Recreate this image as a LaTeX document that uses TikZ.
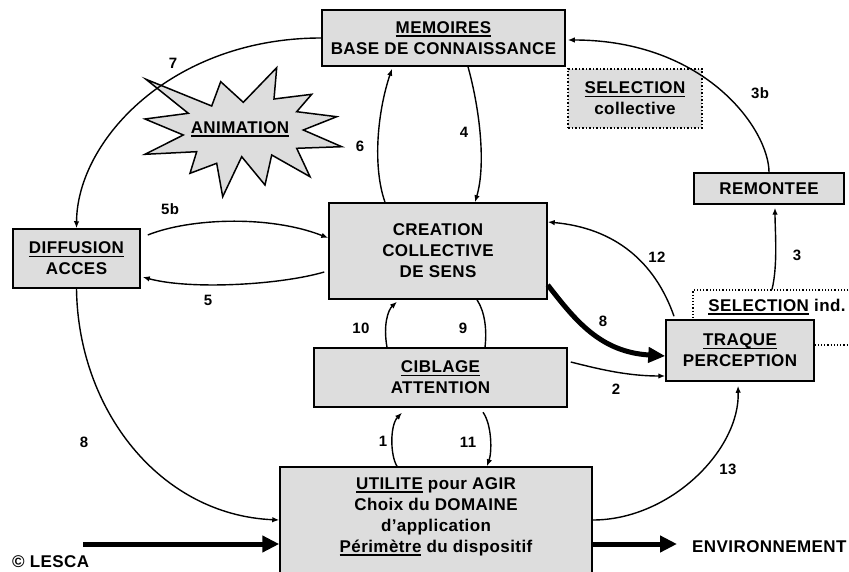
\documentclass[tikz,border=0pt]{standalone}
\usepackage{fontspec}
\setmainfont{Liberation Sans}[LetterSpace=2.5]
\usetikzlibrary{arrows.meta}
\definecolor{boxgray}{RGB}{221,221,221}
\newcommand{\myul}[1]{\setbox0=\hbox{#1}\rlap{\rule[-3.4pt]{\wd0}{1.5pt}}\box0\relax}
\newcommand{\boxfont}{\bfseries\fontsize{17}{21}\selectfont}
\newcommand{\lblfont}{\bfseries\fontsize{15}{17}\selectfont}
\tikzset{
  box/.style={draw=black, line width=1.5pt, fill=boxgray, inner sep=0pt, align=center, font=\boxfont},
  conn/.style={line width=1.4pt, -{Latex[length=7pt,width=5.5pt]}},
  plainline/.style={line width=1.4pt},
  bigconn/.style={line width=5pt, -{Triangle[length=17pt,width=15pt]}},
  thickarrow/.style={line width=5pt, -{Triangle[length=17pt,width=16pt]}},
  lbl/.style={font=\lblfont, inner sep=0pt},
  txt/.style={font=\boxfont, inner sep=0pt, align=center},
  dotbox/.style={draw=black, dotted, line width=1.2pt, inner sep=0pt},
}
\begin{document}
\begin{tikzpicture}[x=1pt,y=-1pt]
\useasboundingbox (0,0) rectangle (849,572);
\fill[white] (0,0) rectangle (849,572);

% star
\draw[line width=1.5pt, fill=boxgray, line join=miter]
 (146.0,79.3) -- (211.7,106.0) -- (220.7,81.7) -- (243.3,102.3) -- (276.7,67.7) -- (274.0,99.0)
 -- (311.7,94.3) -- (296.7,111.7) -- (336.7,116.7) -- (303.3,130.0) -- (341.7,146.7) -- (296.7,148.3)
 -- (310.0,176.7) -- (271.7,155.0) -- (265.0,185.0) -- (241.7,156.7) -- (222.7,196.7) -- (216.7,163.3)
 -- (190.0,173.3) -- (196.7,151.7) -- (145.0,154.3) -- (183.3,135.0) -- (145.0,119.0) -- (188.3,113.3) -- cycle;
\node[txt] (anim) at (240,129) {\myul{ANIMATION}};

% boxes
\node[box, minimum width=243pt, minimum height=56pt] (mem) at (443.5,38) {\myul{MEMOIRES}\\BASE DE CONNAISSANCE};
\node[box, dotted, line width=1.2pt, minimum width=134pt, minimum height=59pt] (selc) at (635,98.5) {\myul{SELECTION}\\collective};
\node[box, minimum width=150pt, minimum height=31pt] (rem) at (769,188.5) {REMONTEE};
\node[box, minimum width=127pt, minimum height=59pt] (diff) at (76.5,258.5) {\myul{DIFFUSION}\\ACCES};
\node[box, minimum width=218pt, minimum height=96pt] (crea) at (438,251) {CREATION\\COLLECTIVE\\DE SENS};
\node[box, minimum width=253pt, minimum height=59pt] (cib) at (440.5,377.5) {\myul{CIBLAGE}\\ATTENTION};
\node[box, minimum width=312pt, minimum height=113pt] (uti) at (436,523.5) {};
\node[txt] (utitxt) at (436,516.5) {\myul{UTILITE} pour AGIR\\Choix du DOMAINE\\d’application\\\myul{Périmètre} du dispositif};
\node[dotbox, minimum width=167pt, minimum height=55pt] (seli) at (776.5,317.5) {};
\node[txt] (selitxt) at (777,306.7) {\myul{SELECTION} ind.};
\node[box, minimum width=148pt, minimum height=61pt] (traq) at (740,350.5) {\myul{TRAQUE}\\PERCEPTION};

% connectors
\draw[conn] (mem.west) .. controls (172,38) and (77,140) .. (diff.north);
\draw[conn] ([xshift=-53pt]crea.north) .. controls (372,165) and (378,110) .. ([xshift=-51.5pt,yshift=-2pt]mem.south);
\draw[conn] ([xshift=24.5pt]mem.south) .. controls (480,110) and (486,165) .. ([xshift=37pt]crea.north);
\draw[conn] ([xshift=7pt,yshift=23.5pt]diff.east) .. controls (190,218) and (270,215) .. ([yshift=13pt]crea.west);
\draw[conn] ([xshift=-4pt,yshift=-21pt]crea.west) .. controls (280,285) and (190,290) .. ([xshift=2pt,yshift=-18.5pt]diff.east);
\draw[conn] ([xshift=-53.5pt]cib.north) .. controls (383,325) and (388,310) .. ([xshift=-41pt,yshift=-2pt]crea.south);
\draw[plainline] ([xshift=39pt]crea.south) .. controls (485,312) and (487,330) .. ([xshift=44.5pt]cib.north);
\draw[bigconn] ([yshift=-34pt]crea.east) .. controls (575,320) and (600,352) .. ([yshift=-5.5pt]traq.west);
\draw[conn] ([xshift=-66pt,yshift=3pt]traq.north) .. controls (655,262) and (615,228) .. ([yshift=29pt]crea.east);
\draw[conn] ([xshift=3pt,yshift=15.5pt]cib.east) .. controls (595,368) and (625,376) .. ([yshift=-25.5pt]traq.west);
\draw[conn] ([xshift=-4.5pt]seli.north) .. controls (778,265) and (775,230) .. ([xshift=6pt,yshift=-3pt]rem.south);
\draw[conn] (rem.north) .. controls (769,130) and (706,40) .. ([xshift=2pt,yshift=-2pt]mem.east);
\draw[conn] ([xshift=-39pt]uti.north) .. controls (390,455) and (390,425) .. ([xshift=-38.5pt,yshift=-5pt]cib.south);
\draw[conn] ([xshift=42.5pt,yshift=-4.5pt]cib.south) .. controls (492,425) and (492,452) .. ([xshift=51pt]uti.north);
\draw[conn] (diff.south) .. controls (78,410) and (160,515) .. ([yshift=3.5pt]uti.west);
\draw[conn] ([yshift=3.5pt]uti.east) .. controls (670,520) and (740,450) .. ([xshift=-2pt,yshift=-4pt]traq.south);

\coordinate (inp) at (83,544);
\coordinate (outp) at (677,544);
\draw[thickarrow] (inp) -- ([yshift=-20.5pt]uti.west);
\draw[thickarrow] ([yshift=-20.5pt]uti.east) -- (outp);

% labels
\node[lbl] (l7) at (173,63) {7};
\node[lbl] (l6) at (360,146) {6};
\node[lbl] (l4) at (464,132) {4};
\node[lbl] (l3b) at (760,93) {3b};
\node[lbl] (l5b) at (170,209) {5b};
\node[lbl] (l5) at (208,300) {5};
\node[lbl] (l12) at (657,257) {12};
\node[lbl] (l3) at (797,255) {3};
\node[lbl] (l8a) at (603,321) {8};
\node[lbl] (l10) at (361,328) {10};
\node[lbl] (l9) at (463,328) {9};
\node[lbl] (l2) at (616,389) {2};
\node[lbl] (l1) at (383,441) {1};
\node[lbl] (l11) at (468,442) {11};
\node[lbl] (l8b) at (84,442) {8};
\node[lbl] (l13) at (728,469) {13};
\node[txt, anchor=west] (env) at (692,547) {ENVIRONNEMENT};
\node[txt, anchor=west] (copy) at (12,562) {© LESCA};
\end{tikzpicture}
\end{document}
